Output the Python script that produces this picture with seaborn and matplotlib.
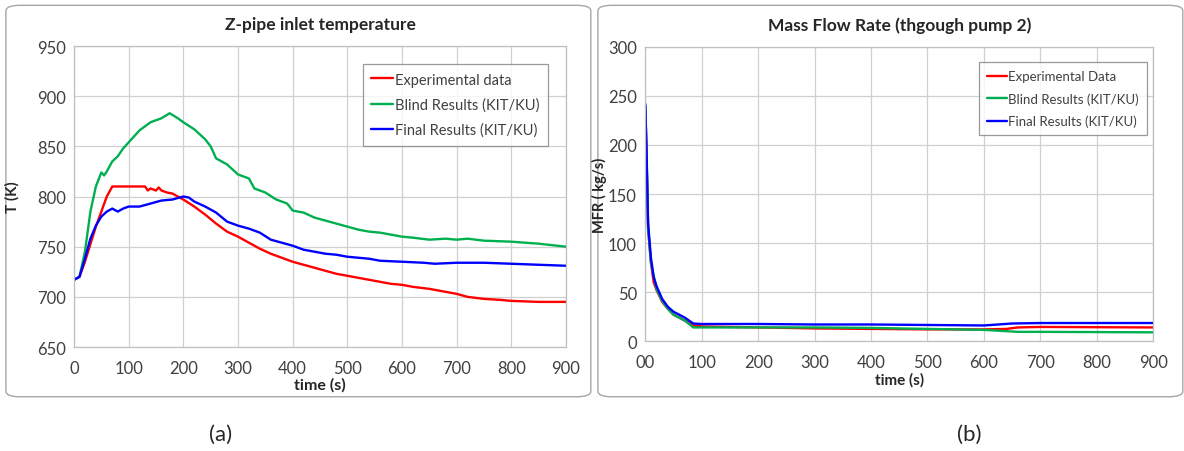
import matplotlib
matplotlib.use("Agg")
import matplotlib.pyplot as plt
from matplotlib.patches import FancyBboxPatch
import pandas as pd
import seaborn as sns

# (a) Z-pipe inlet temperature, T (K) vs time (s)
t_exp = [0, 10, 20, 40, 60, 70, 130, 135, 140, 150, 155, 160, 170, 180, 190, 200, 220, 240, 260, 280,
         300, 320, 340, 360, 380, 400, 420, 440, 460, 480, 500, 520, 540, 560, 580, 600, 620, 650,
         680, 700, 720, 750, 780, 800, 850, 900]
T_exp = [717, 720, 735, 770, 800, 810, 810, 806, 808, 806, 809, 806, 804, 803, 800, 797, 790, 782, 773, 765,
         760, 754, 748, 743, 739, 735, 732, 729, 726, 723, 721, 719, 717, 715, 713, 712, 710, 708,
         705, 703, 700, 698, 697, 696, 695, 695]

t_blind = [0, 10, 20, 30, 40, 50, 55, 60, 70, 80, 90, 100, 120, 140, 160, 175, 190, 200, 220, 240, 250,
           260, 280, 300, 320, 330, 350, 370, 390, 400, 420, 440, 460, 480, 500, 520, 540, 560, 580,
           600, 620, 650, 680, 700, 720, 750, 800, 850, 900]
T_blind = [717, 720, 745, 785, 810, 824, 821, 825, 835, 840, 848, 854, 866, 874, 878, 883, 878, 874, 867, 857, 850,
           838, 832, 822, 818, 808, 804, 797, 793, 786, 784, 779, 776, 773, 770, 767, 765, 764, 762,
           760, 759, 757, 758, 757, 758, 756, 755, 753, 750]

t_final = [0, 10, 20, 30, 40, 50, 60, 70, 80, 90, 100, 120, 140, 160, 180, 200, 210, 220, 240, 260, 280,
           300, 320, 340, 360, 380, 400, 420, 440, 460, 480, 500, 520, 540, 560, 600, 640, 660, 700,
           750, 800, 850, 900]
T_final = [717, 720, 738, 758, 771, 780, 785, 788, 785, 788, 790, 790, 793, 796, 797, 800, 799, 795, 790, 784, 775,
           771, 768, 764, 757, 754, 751, 747, 745, 743, 742, 740, 739, 738, 736, 735, 734, 733, 734,
           734, 733, 732, 731]

# (b) Mass flow rate through pump 2, MFR (kg/s) vs time (s)
m_t_exp = [0, 2, 5, 10, 15, 20, 30, 40, 50, 60, 70, 85, 100, 200, 300, 400, 500, 600, 640, 660, 700, 900]
m_exp = [240, 195, 115, 80, 60, 52, 40, 33, 27, 24, 21, 16, 15, 14, 13, 12.5, 12, 12, 12.5, 14, 14.5, 14]

m_t_blind = [0, 2, 5, 10, 20, 30, 40, 50, 60, 70, 85, 100, 200, 300, 400, 500, 600, 660, 700, 900]
m_blind = [240, 195, 115, 80, 53, 41, 33, 27, 24, 21, 14, 14, 14, 14, 13.5, 12.5, 11.5, 9.5, 9.5, 9]

m_t_final = [0, 2, 5, 10, 15, 20, 30, 40, 50, 60, 70, 85, 100, 200, 300, 400, 500, 600, 650, 700, 900]
m_final = [242, 200, 120, 85, 65, 56, 43, 35, 30, 27, 24, 18, 17.5, 17.5, 17, 17, 16.5, 16, 18, 18.5, 18.5]

x_ticks = [0, 100, 200, 300, 400, 500, 600, 700, 800, 900]
right_x_labels = ["00", "100", "200", "300", "400", "500", "600", "700", "800", "900"]

sns.set_style("whitegrid")
plt.rcParams["font.family"] = ["Lato", "DejaVu Sans"]

fig = plt.figure(figsize=(11.84, 4.52), dpi=100)

# rounded panel frames
for x0 in (0.005, 0.505):
    fig.patches.append(FancyBboxPatch((x0, 0.120), 0.494, 0.866, boxstyle="round,pad=0,rounding_size=0.012",
                                      transform=fig.transFigure, facecolor="none", edgecolor="#a6a6a6",
                                      linewidth=1.0, zorder=-5))

ax1 = fig.add_axes([0.0625, 0.230, 0.4155, 0.666])
ax2 = fig.add_axes([0.545, 0.243, 0.429, 0.651])

red, green, blue = "#ff0000", "#00b050", "#0000ff"

def draw(ax, series, leg_size, anchor):
    for xs, ys, c, lab in series:
        df = pd.DataFrame({"x": xs, "y": ys})
        sns.lineplot(data=df, x="x", y="y", ax=ax, color=c, linewidth=1.7, label=lab)
    ax.set_xlim(0, 900)
    ax.set_xticks(x_ticks)
    ax.grid(True, color="#d0d0d0", linewidth=0.9)
    for s in ax.spines.values():
        s.set_color("#bfbfbf")
        s.set_linewidth(0.9)
    ax.tick_params(labelsize=12, labelcolor="#404040", length=0)
    ax.tick_params(axis="x", pad=9)
    ax.tick_params(axis="y", pad=6)
    ax.set_facecolor("white")
    leg = ax.legend(loc="upper right", fontsize=leg_size, frameon=True, fancybox=False,
                    handlelength=1.5, handletextpad=0.1, borderpad=0.6, labelspacing=0.75,
                    bbox_to_anchor=anchor)
    leg.get_frame().set_edgecolor("#808080")
    leg.get_frame().set_linewidth(0.9)
    for txt in leg.get_texts():
        txt.set_color("#404040")

draw(ax1, [(t_exp, T_exp, red, "Experimental data"),
           (t_blind, T_blind, green, "Blind Results (KIT/KU)"),
           (t_final, T_final, blue, "Final Results (KIT/KU)")], 10.5, (0.978, 0.965))
ax1.set_ylim(650, 950)
ax1.set_yticks(range(650, 951, 50))
ax1.set_title("Z-pipe inlet temperature", fontsize=12.5, fontweight="bold", pad=12)
ax1.set_xlabel("time (s)", fontsize=11.5, fontweight="bold", labelpad=1)
ax1.set_ylabel("T (K)", fontsize=11, fontweight="bold")
ax1.yaxis.set_label_coords(-0.11, 0.5)

draw(ax2, [(m_t_exp, m_exp, red, "Experimental Data"),
           (m_t_blind, m_blind, green, "Blind Results (KIT/KU)"),
           (m_t_final, m_final, blue, "Final Results (KIT/KU)")], 9.5, (1.0, 0.97))
ax2.set_ylim(0, 300)
ax2.set_yticks(range(0, 301, 50))
ax2.set_xticklabels(right_x_labels)
ax2.set_title("Mass Flow Rate (thgough pump 2)", fontsize=12.5, fontweight="bold", pad=12)
ax2.set_xlabel("time (s)", fontsize=11, fontweight="bold", labelpad=2)
ax2.set_ylabel("MFR ( kg/s)", fontsize=10.5, fontweight="bold")
ax2.yaxis.set_label_coords(-0.075, 0.5)

fig.text(0.186, 0.038, "(a)", fontsize=16, ha="center", va="center")
fig.text(0.819, 0.038, "(b)", fontsize=16, ha="center", va="center")

fig.savefig("out.png", dpi=100)
plt.close(fig)
